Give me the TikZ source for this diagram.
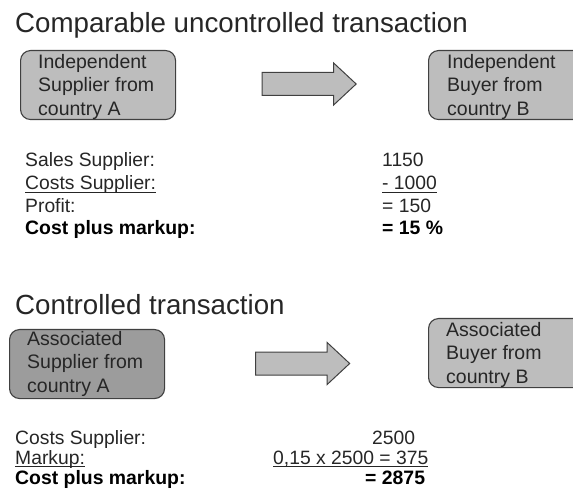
\documentclass[tikz,border=0pt]{standalone}
\usepackage{fontspec}
\setmainfont{Liberation Sans}
\usetikzlibrary{shapes.arrows,positioning}

\definecolor{boxlight}{HTML}{BDBDBD}
\definecolor{boxdark}{HTML}{9C9C9C}
\definecolor{edgegray}{HTML}{404040}
\definecolor{txtgray}{HTML}{262626}

% underline close to the baseline
\newcommand{\ulin}[1]{\setbox0\hbox{#1}\rlap{\rule[-2.6pt]{\wd0}{0.9pt}}\box0}

\begin{document}
\begin{tikzpicture}[x=1pt,y=-1pt,
            party/.style={draw=edgegray,line width=1.1pt,rounded corners=10pt,fill=boxlight,
                minimum width=155pt,minimum height=69pt,anchor=north west,inner sep=0pt},
            partytext/.style={anchor=north west,align=left,inner sep=0pt,
                font=\fontsize{19.5}{23.5}\selectfont,text=txtgray},
            flow/.style={single arrow,draw=edgegray,line width=1pt,fill=boxlight,
                minimum height=94pt,inner xsep=0pt,inner ysep=11pt,
                single arrow head extend=9.5pt,single arrow tip angle=86},
            heading/.style={anchor=base west,inner sep=0pt,font=\fontsize{27.7}{32}\selectfont,text=txtgray},
            entry/.style={anchor=base west,inner sep=0pt,font=\fontsize{19.3}{23}\selectfont,text=txtgray},
            entrybold/.style={entry,font=\fontsize{19.4}{23}\selectfont\bfseries,text=black}
        ]
            \useasboundingbox (0,0) rectangle (573,494);
            \clip (0,0) rectangle (573,494);

            % comparable uncontrolled transaction
            \node[heading] (titleCUT) at (15,33) {Comparable uncontrolled transaction};
            \node[party] (supA) at (20,50) {};
            \node[partytext] (supAtext) at ([shift={(18,4)}]supA.north west)
                {Independent\\Supplier from\\country A};
            \node[party] (buyB) at (428,50) {};
            \node[partytext] (buyBtext) at ([shift={(19,4)}]buyB.north west)
                {Independent\\Buyer from\\country B};
            \node[flow] (flowCUT) at (303,84) {};

            \node[entry] (salesL) at (25,167) {Sales Supplier:};
            \node[entry] (costsL) at (25,190) {\ulin{Costs Supplier:}};
            \node[entry] (profitL) at (25,213) {Profit:};
            \node[entrybold] (markupL) at (25,235) {Cost plus markup:};
            \node[entry] (salesR) at (382,167) {1150};
            \node[entry] (costsR) at (382,190) {\ulin{- 1000}};
            \node[entry] (profitR) at (382,213) {= 150};
            \node[entrybold] (markupR) at (382,235) {= 15 \%};

            % controlled transaction
            \node[heading] (titleCT) at (15,315) {Controlled transaction};
            \node[party,fill=boxdark] (assocA) at (9,329) {};
            \node[partytext] (assocAtext) at ([shift={(18,2)}]assocA.north west)
                {Associated\\Supplier from\\country A};
            \node[party] (assocB) at (428,318) {};
            \node[partytext] (assocBtext) at ([shift={(18,4)}]assocB.north west)
                {Associated\\Buyer from\\country B};
            \node[flow] (flowCT) at (296.5,363.5) {};

            \node[entry] (ctCostsL) at (15,444) {Costs Supplier:};
            \node[entry] (ctMarkupL) at (15,464) {\ulin{Markup:}};
            \node[entrybold] (ctTotalL) at (15,484) {Cost plus markup:};
            \node[entry] (ctCostsR) at (372,444) {2500};
            \node[entry] (ctMarkupR) at (273,464) {\ulin{0,15 x 2500 = 375}};
            \node[entrybold] (ctTotalR) at (365,484) {= 2875};
        \end{tikzpicture}
\end{document}
